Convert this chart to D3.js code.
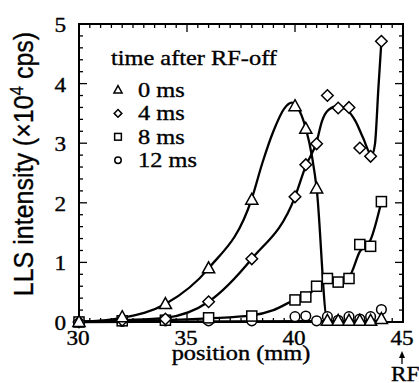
<!DOCTYPE html>
<html>
<head>
<meta charset="utf-8">
<script src="https://cdn.jsdelivr.net/npm/d3@7"></script>
<style>
  html, body { margin: 0; padding: 0; background: #fff; }
  svg { display: block; }
</style>
</head>
<body>
<div id="chart"></div>
<script>
(function() {
"use strict";

// measured positions (mm) and LLS intensity (x10^4 cps)
var positions = [30, 32, 34, 36, 38, 40, 40.5, 41, 41.5, 42, 42.5, 43, 43.5, 44];
var ms0  = [0, 0.08, 0.30, 0.90, 2.05, 3.62, 3.24, 2.24, 0.02, 0.02, 0.02, 0.02, 0.02, 0.05];
var ms4  = [0, 0.03, 0.05, 0.34, 1.06, 2.10, 2.64, 2.99, 3.80, 3.59, 3.60, 2.92, 2.78, 4.71];
var ms8  = [0, 0.02, 0.03, 0.07, 0.10, 0.37, 0.42, 0.60, 0.73, 0.67, 0.73, 1.30, 1.27, 2.02];
var ms12 = [0, 0.01, 0.02, 0.02, 0.02, 0.09, 0.10, 0.02, 0.09, 0.03, 0.09, 0.05, 0.09, 0.21];

// guide curves as drawn in the figure (knots)
var fit0X  = [30, 32, 34, 36, 38, 38.5, 39, 39.5, 39.85, 40.2, 40.5, 40.8, 41, 41.5, 44];
var fit0Y  = [0, 0.07, 0.30, 0.90, 2.07, 2.68, 3.20, 3.58, 3.68, 3.55, 3.25, 2.75, 2.25, 0.02, 0.02];
var fit4X  = [30, 32, 34, 36, 38, 40, 40.5, 41, 41.25, 41.55, 41.95, 42.4, 42.8, 43.15, 43.55, 43.7, 43.86, 44];
var fit4Y  = [0, 0.03, 0.07, 0.34, 1.06, 2.10, 2.62, 3.02, 3.37, 3.56, 3.62, 3.56, 3.37, 3.09, 2.80, 2.98, 3.92, 4.71];
var fit8X  = [30, 32, 34, 36, 38, 39, 40, 40.5, 41, 41.5, 42, 42.5, 43, 43.5, 44];
var fit8Y  = [0, 0.02, 0.03, 0.06, 0.11, 0.20, 0.37, 0.43, 0.58, 0.70, 0.70, 0.76, 1.18, 1.38, 2.02];
var fit12X = [30, 44];
var fit12Y = [0, 0.02];

var legendLabels = ["0 ms", "4 ms", "8 ms", "12 ms"];
var symbols = ["triangle", "diamond", "square", "circle"];
var xTicks = [30, 35, 40, 45];
var yTicks = [0, 1, 2, 3, 4, 5];

var W = 419, H = 383;
var serif = "'Liberation Serif', 'Times New Roman', serif";
var sans = "'Liberation Sans', Arial, sans-serif";
var stretch = 1.16;

var svg = d3.select("#chart").append("svg")
  .attr("width", W).attr("height", H);

var x = d3.scaleLinear().domain([30, 45]).range([79, 403]);
var y = d3.scaleLinear().domain([0, 5]).range([322, 24]);

function addText(g, tx, ty, str, size, anchor) {
  return g.append("text")
    .attr("transform", "translate(" + tx + "," + ty + ") scale(" + stretch + ",1)")
    .attr("text-anchor", anchor || "start")
    .attr("font-family", serif)
    .attr("font-size", size)
    .attr("fill", "#000")
    .attr("stroke", "#000")
    .attr("stroke-width", 0.35)
    .text(str);
}

// ticks (inward, on all four sides)
var ticks = svg.append("g").attr("stroke", "#000").attr("stroke-width", 1.3);
d3.range(0, 5.001, 0.2).forEach(function(v) {
  var major = Math.abs(v - Math.round(v)) < 1e-6;
  var len = major ? 8 : 4;
  ticks.append("line").attr("x1", x(30)).attr("x2", x(30) + len).attr("y1", y(v)).attr("y2", y(v));
  ticks.append("line").attr("x1", x(45)).attr("x2", x(45) - len).attr("y1", y(v)).attr("y2", y(v));
});
d3.range(30, 45.001, 0.5).forEach(function(v) {
  var major = Math.abs(v / 5 - Math.round(v / 5)) < 1e-6;
  var len = major ? 8 : 4;
  ticks.append("line").attr("y1", y(0)).attr("y2", y(0) - len).attr("x1", x(v)).attr("x2", x(v));
  ticks.append("line").attr("y1", y(5)).attr("y2", y(5) + len).attr("x1", x(v)).attr("x2", x(v));
});

// frame
svg.append("rect")
  .attr("x", x(30)).attr("y", y(5))
  .attr("width", x(45) - x(30)).attr("height", y(0) - y(5))
  .attr("fill", "none").attr("stroke", "#000").attr("stroke-width", 2);

// tick labels
yTicks.forEach(function(v) {
  addText(svg, 66, y(v) + 8, String(v), 20, "end");
});
xTicks.forEach(function(v) {
  addText(svg, x(v) - 1, 345, String(v), 20, "middle");
});

// axis titles
addText(svg, 241, 360, "position (mm)", 21, "middle");
var yl = svg.append("text")
  .attr("transform", "translate(33,164) scale(1.12,1) rotate(-90)")
  .attr("text-anchor", "middle")
  .attr("font-family", sans)
  .attr("font-size", 25)
  .attr("fill", "#000")
  .attr("stroke", "#000")
  .attr("stroke-width", 0.3);
yl.append("tspan").text("LLS intensity (\u00d710");
yl.append("tspan").attr("font-size", 17).attr("dy", -9).text("4");
yl.append("tspan").attr("dy", 9).text(" cps)");

// RF marker below 45
svg.append("line")
  .attr("x1", x(45) - 1).attr("x2", x(45) - 1)
  .attr("y1", 364).attr("y2", 355)
  .attr("stroke", "#000").attr("stroke-width", 1.3);
svg.append("path")
  .attr("d", "M" + (x(45) - 1) + ",351 l-3,7 l6,0 z")
  .attr("fill", "#000");
addText(svg, 391, 381, "RF", 20, "start");

// curves
var line = d3.line()
  .x(function(d) { return x(d[0]); })
  .y(function(d) { return y(d[1]); })
  .curve(d3.curveMonotoneX);
[[fit0X, fit0Y], [fit4X, fit4Y], [fit8X, fit8Y], [fit12X, fit12Y]].forEach(function(f) {
  svg.append("path")
    .datum(d3.zip(f[0], f[1]))
    .attr("d", line)
    .attr("fill", "none")
    .attr("stroke", "#000")
    .attr("stroke-width", 2.3);
});

// markers
function marker(g, type, cx, cy, s) {
  var p;
  if (type === "triangle") {
    p = g.append("path").attr("d",
      "M" + cx + "," + (cy - s * 0.62) +
      "L" + (cx + s * 0.58) + "," + (cy + s * 0.42) +
      "L" + (cx - s * 0.58) + "," + (cy + s * 0.42) + "Z");
  } else if (type === "diamond") {
    p = g.append("path").attr("d",
      "M" + cx + "," + (cy - s * 0.55) +
      "L" + (cx + s * 0.55) + "," + cy +
      "L" + cx + "," + (cy + s * 0.55) +
      "L" + (cx - s * 0.55) + "," + cy + "Z");
  } else if (type === "square") {
    p = g.append("rect")
      .attr("x", cx - s * 0.48).attr("y", cy - s * 0.48)
      .attr("width", s * 0.96).attr("height", s * 0.96);
  } else {
    p = g.append("circle").attr("cx", cx).attr("cy", cy).attr("r", s * 0.46);
  }
  return p.attr("fill", "#fff").attr("stroke", "#000").attr("stroke-width", 1.5);
}

var seriesVals = [ms0, ms4, ms8, ms12];
var marks = svg.append("g");
[3, 2, 1, 0].forEach(function(k) {
  positions.forEach(function(px, i) {
    marker(marks, symbols[k], x(px), y(seriesVals[k][i]), 10.5);
  });
});

// legend
var lg = svg.append("g");
addText(lg, 111, 65, "time after RF-off", 21, "start");
legendLabels.forEach(function(lab, i) {
  var ly = 90 + i * 23.4;
  marker(lg, symbols[i], 118, ly, 7);
  addText(lg, 138, ly + 7, lab, 21, "start");
});

})();
</script>
</body>
</html>
